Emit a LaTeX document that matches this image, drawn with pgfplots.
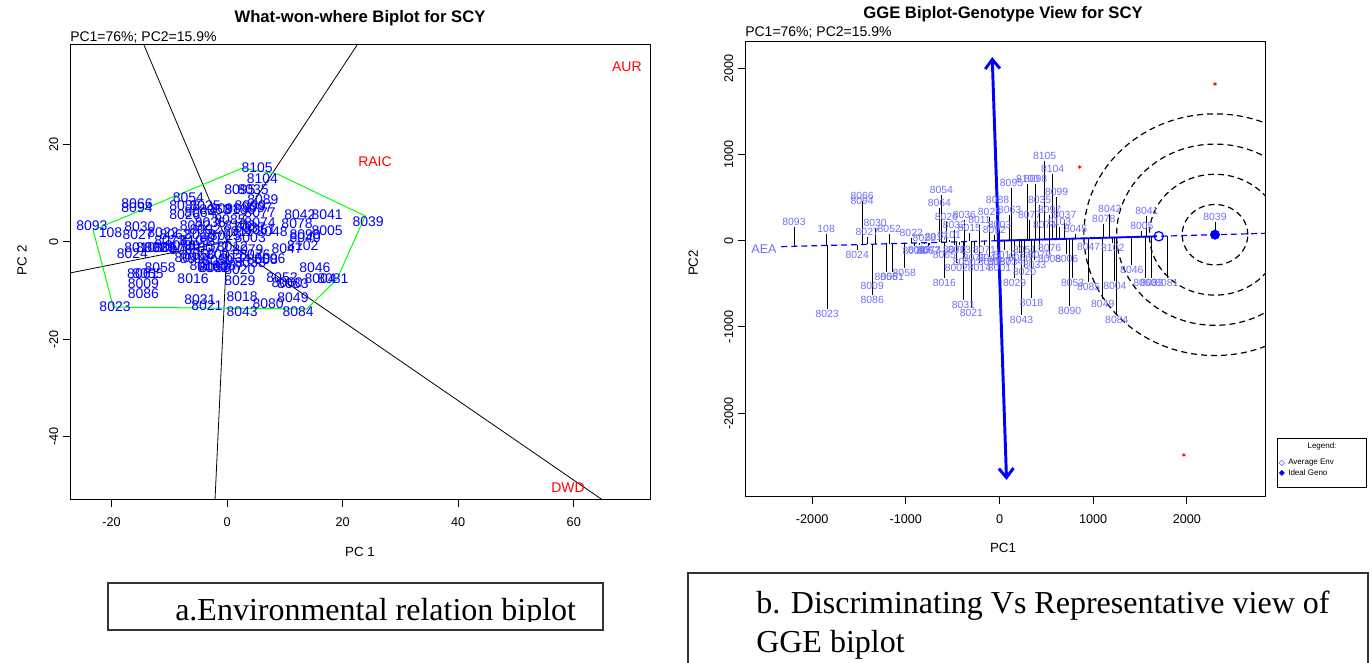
\documentclass[border=0pt]{standalone}
\usepackage{fontspec}
\setmainfont{Liberation Sans}
\newfontfamily\serif{Liberation Serif}
\newfontfamily\dejavu{DejaVu Sans}
\usepackage{pgfplots}
\usepackage{pgfplotstable}
\pgfplotsset{compat=1.18}
\usetikzlibrary{arrows.meta}

\definecolor{lablue}{RGB}{110,110,255}

% what-won-where: genotype scores (PC1, PC2)
\pgfplotstableread{
x y lab
5.2 15.3 8105
6.1 12.9 8104
2.2 10.6 8095
4.5 10.8 8035
6.2 8.6 8089
-6.7 9.0 8054
-15.6 7.9 8066
-15.6 7.1 8094
-23.4 3.4 8093
-15.1 3.2 8030
-20.2 1.8 108
-15.4 1.4 8027
-11.1 1.8 8022
-15.1 -1.3 8010
-16.4 -2.5 8024
-11.6 -5.4 8058
-13.7 -6.6 8055
-14.6 -6.6 8061
-14.5 -8.5 8009
-14.5 -10.7 8086
-19.4 -13.4 8023
-5.9 -7.5 8016
-2.4 -5.4 8002
2.2 -5.8 8020
2.2 -7.9 8029
-4.7 -11.8 8031
-3.5 -13.2 8021
2.6 -11.2 8018
2.6 -14.4 8043
7.1 -12.8 8080
11.4 -11.4 8049
12.3 -14.4 8084
9.5 -7.3 8052
10.4 -8.3 8060
11.4 -8.5 8083
16.1 -7.5 8004
18.3 -7.5 8081
15.2 -5.4 8046
10.4 -1.5 8047
13.1 -0.7 8102
17.3 2.2 8005
13.5 1.4 8090
13.5 0.8 8040
12.6 5.5 8042
17.3 5.5 8041
12.1 3.8 8078
24.4 4.2 8039
7.8 2.0 8048
5.7 5.9 8077
5.7 4.0 8074
5.2 7.1 8097
5.7 2.4 8051
7.4 -3.4 8006
6.1 -3.6 8008
-4.7 5.9 8064
-2.1 6.5 8063
-0.3 6.9 8098
2.2 6.5 8100
4.0 7.5 8099
0.5 4.5 8085
-2.9 4.0 8036
-5.5 3.4 8032
-7.3 5.5 8026
-4.7 1.4 8028
-2.1 0.8 8071
-0.3 1.2 8015
1.9 2.0 8011
4.0 0.8 8003
-4.7 -0.7 8013
-2.4 -1.3 8072
0.9 -0.9 8012
3.6 -1.7 8079
4.8 -2.7 8076
-8.1 -0.7 8070
-9.9 -1.3 8057
-7.3 -1.7 8065
-4.7 -2.7 8050
-5.5 -3.4 8017
-1.6 -3.8 8059
1.4 -3.4 8034
4.0 -4.2 8033
-3.8 -4.8 8014
-0.9 -2.7 8001
-3.8 2.4 8092
-5.5 0.3 8101
2.2 3.4 8103
-3.8 7.5 8025
-7.3 7.5 8088
-9.9 0.3 8073
-9.0 1.4 8062
-6.4 -3.2 8044
4.0 2.8 8037
-11.6 -1.3 8069
-13.0 -1.3 8082
-2.1 -5.4 8056
0.2 -4.8 8087
}\leftgeno

\pgfplotstableread{
x y lab
69.2 35.9 AUR
25.6 16.5 RAIC
59.0 -50.4 DWD
}\leftenv

% genotype view: genotypes above the AEA line
\pgfplotstableread{
x y lab
-2194 159 8093
-1851 78 108
-1466 460 8066
-1466 402 8094
-1327 147 8030
-1412 43 8027
-1177 78 8052
-942 31 8022
-803 -27 8028
-621 530 8054
-642 379 8064
-567 217 8026
128 611 8095
300 657 8100
385 657 8098
482 924 8105
567 773 8104
610 506 8099
813 78 8045
1177 309 8042
1113 194 8078
1573 286 8041
1519 112 8005
2300 217 8039
428 414 8035
535 298 8097
321 240 8077
482 124 8074
0 124 8003
-214 182 8011
-375 240 8036
-482 124 8032
107 298 8063
-107 275 8025
-321 89 8015
-54 66 8092
-535 8 8101
642 159 8103
696 240 8037
-21 414 8088
-674 -15 8017
}\rightA

% genotypes below the AEA line
\pgfplotstableread{
x y lab
-1840 -793 8023
-1519 -108 8024
-1359 -467 8009
-1359 -629 8086
-910 -61 8038
-1209 -363 8055
-1145 -363 8061
-1017 -317 8058
-589 -432 8016
-385 -687 8031
-300 -780 8021
-460 -258 8002
952 -15 8047
1209 -27 8102
1412 -282 8046
1552 -432 8060
1626 -432 8083
1787 -432 8081
781 -432 8053
952 -479 8085
1231 -467 8004
1102 -676 8049
1252 -861 8084
749 -757 8090
717 -154 8006
535 -154 8008
268 -305 8020
161 -432 8029
342 -664 8018
235 -861 8043
268 -50 8051
-161 -50 8071
54 -108 8012
-428 -50 8013
-268 -143 8072
428 -108 8079
535 -27 8076
-107 -189 8059
128 -189 8034
375 -224 8033
-214 -258 8014
0 -258 8001
-107 -143 8044
-482 -50 8070
-760 -60 8057
-589 -108 8065
-375 -189 8050
-856 -50 8069
214 -143 8056
0 -189 8087
-749 -50 8073
}\rightB

\pgfplotsset{
  rbase/.style={
    anchor=south west, scale only axis,
    tick align=outside, xtick pos=left, ytick pos=left,
    major tick length=5.25pt,
    axis line style={line width=0.75pt},
    tick style={line width=0.75pt, black},
    ticklabel style={font=\fontsize{9.5}{11}\selectfont},
    xticklabel style={yshift=-4.5pt},
    yticklabel style={rotate=90, anchor=south},
    /pgf/number format/assume math mode=true,
    /pgf/number format/set thousands separator={},
  },
}

\begin{document}
\begin{tikzpicture}
\useasboundingbox (0,0) rectangle (1029pt,497.25pt);

% ---- a: what-won-where ----
\begin{axis}[rbase,
  at={(52.5pt,122.25pt)}, width=435pt, height=341.25pt,
  xmin=-27.2, xmax=73.2, ymin=-53, ymax=40.4,
  xtick={-20,0,20,40,60}, ytick={-40,-20,0,20},
]
\addplot[black, line width=0.6pt] coordinates {(0,0) (-14.4,40.4)};
\addplot[black, line width=0.6pt] coordinates {(0,0) (22.5,40.4)};
\addplot[black, line width=0.6pt] coordinates {(0,0) (-27.2,-6.4)};
\addplot[black, line width=0.6pt] coordinates {(0,0) (-2.1,-53)};
\addplot[black, line width=0.6pt] coordinates {(0,0) (65.0,-53)};
\addplot[green, line width=0.75pt] coordinates {
  (-23.2,2.4) (2.6,15.1) (8.7,13.9) (23.9,5.3) (19.0,-7.7) (13.8,-13.8) (-19.7,-13.4) (-23.2,2.4)};
\addplot[draw=none, mark=none, nodes near coords, point meta=explicit symbolic,
  every node near coord/.append style={anchor=center, inner sep=0pt, text=blue,
    font=\fontsize{10.5}{11}\selectfont}]
  table[x=x, y=y, meta=lab] {\leftgeno};
\addplot[draw=none, mark=none, nodes near coords, point meta=explicit symbolic,
  every node near coord/.append style={anchor=center, inner sep=0pt, text=red,
    font=\fontsize{10.5}{11}\selectfont}]
  table[x=x, y=y, meta=lab] {\leftenv};
\end{axis}

% ---- b: genotype view ----
\begin{axis}[rbase,
  at={(558.75pt,124.5pt)}, width=390pt, height=341.25pt,
  xmin=-2717, xmax=2834, ymin=-2970, ymax=2302,
  xtick={-2000,-1000,0,1000,2000}, ytick={-2000,-1000,0,1000,2000},
]
\draw[black, line width=0.9pt, dash pattern=on 4.5pt off 3pt]
  (axis cs:2300,69) ellipse [x radius=350, y radius=350];
\draw[black, line width=0.9pt, dash pattern=on 4.5pt off 3pt]
  (axis cs:2300,69) ellipse [x radius=700, y radius=700];
\draw[black, line width=0.9pt, dash pattern=on 4.5pt off 3pt]
  (axis cs:2300,69) ellipse [x radius=1050, y radius=1050];
\draw[black, line width=0.9pt, dash pattern=on 4.5pt off 3pt]
  (axis cs:2300,69) ellipse [x radius=1400, y radius=1400];
\addplot[blue, line width=0.9pt, dash pattern=on 4.5pt off 3pt] coordinates {(-2330,-70) (2900,87)};
\addplot[black, line width=0.6pt, quiver={u=0, v=0.03*\thisrow{x}-\thisrow{y}}] table[x=x, y=y] {\rightA};
\addplot[black, line width=0.6pt, quiver={u=0, v=0.03*\thisrow{x}-\thisrow{y}}] table[x=x, y=y] {\rightB};
\addplot[blue, line width=1.4pt] coordinates {(0,0) (1680,50)};
\addplot[blue, line width=2.2pt, {Straight Barb[length=7pt, width=11pt]}-{Straight Barb[length=7pt, width=11pt]}]
  coordinates {(-78,2127) (75,-2773)};
\addplot[only marks, mark=o, mark size=3.5pt, blue, line width=0.9pt, fill=white] coordinates {(1700,51)};
\addplot[only marks, mark=*, mark size=3.5pt, blue] coordinates {(2300,69)};
\addplot[only marks, mark=asterisk, mark size=1.6pt, red] coordinates {(2300,1815) (856,853) (1968,-2483)};
\addplot[draw=none, mark=none, nodes near coords, point meta=explicit symbolic,
  every node near coord/.append style={anchor=south, inner sep=0.6pt, text=lablue,
    font=\fontsize{7.8}{8}\selectfont}]
  table[x=x, y=y, meta=lab] {\rightA};
\addplot[draw=none, mark=none, nodes near coords, point meta=explicit symbolic,
  every node near coord/.append style={anchor=north, inner sep=0.6pt, text=lablue,
    font=\fontsize{7.8}{8}\selectfont}]
  table[x=x, y=y, meta=lab] {\rightB};
\addplot[draw=none, mark=none, nodes near coords, point meta=explicit symbolic,
  every node near coord/.append style={anchor=center, inner sep=0pt, text=lablue,
    font=\fontsize{9.5}{10}\selectfont}]
  coordinates {(-2514,-96)[AEA]};
\end{axis}

% titles and axis names
\node[font=\bfseries\fontsize{12.5}{14}\selectfont] at (270pt,483.75pt) {What-won-where Biplot for SCY};
\node[anchor=west, inner sep=0pt, font=\fontsize{10.5}{12}\selectfont] at (52.5pt,468.75pt) {PC1=76\%; PC2=15.9\%};
\node[font=\bfseries\fontsize{12.5}{14}\selectfont] at (752.25pt,486.75pt) {GGE Biplot-Genotype View for SCY};
\node[anchor=west, inner sep=0pt, font=\fontsize{10.5}{12}\selectfont] at (558.75pt,472.5pt) {PC1=76\%; PC2=15.9\%};
\node[font=\fontsize{10}{12}\selectfont] at (270pt,83.25pt) {PC 1};
\node[font=\fontsize{10}{12}\selectfont] at (752.25pt,86.25pt) {PC1};
\node[rotate=90, font=\fontsize{10}{12}\selectfont] at (16.5pt,302pt) {PC 2};
\node[rotate=90, font=\fontsize{10}{12}\selectfont] at (520pt,300pt) {PC2};

% legend of panel b
\draw[black, line width=0.6pt] (957.75pt,132pt) rectangle (1024.5pt,168.75pt);
\node[font=\fontsize{6}{7}\selectfont] at (991.5pt,162.75pt) {Legend:};
\node[text=blue, font=\dejavu\fontsize{6}{7}\selectfont] at (961.5pt,150pt) {◇};
\node[text=blue, font=\dejavu\fontsize{6}{7}\selectfont] at (961.5pt,142.5pt) {◆};
\node[anchor=west, inner sep=0pt, font=\fontsize{6}{7}\selectfont] at (966pt,150pt) {Average Env};
\node[anchor=west, inner sep=0pt, font=\fontsize{6}{7}\selectfont] at (966pt,142.5pt) {Ideal Geno};

% caption boxes
\draw[black!80, line width=0.8pt] (81pt,24.75pt) rectangle (452.25pt,60pt);
\begin{scope}
\clip (81pt,31pt) rectangle (452.25pt,60pt);
\node[anchor=base west, inner sep=0pt, font=\serif\fontsize{24}{28}\selectfont] at (131.25pt,31.5pt) {a.Environmental relation biplot};
\end{scope}
\draw[black!80, line width=0.8pt] (516pt,-10pt) rectangle (1026pt,67.5pt);
\node[anchor=base west, inner sep=0pt, font=\serif\fontsize{24}{28}\selectfont] at (567pt,36.75pt) {b. Discriminating Vs Representative view of};
\node[anchor=base west, inner sep=0pt, font=\serif\fontsize{24}{28}\selectfont] at (567pt,7.5pt) {GGE biplot};
\end{tikzpicture}
\end{document}
